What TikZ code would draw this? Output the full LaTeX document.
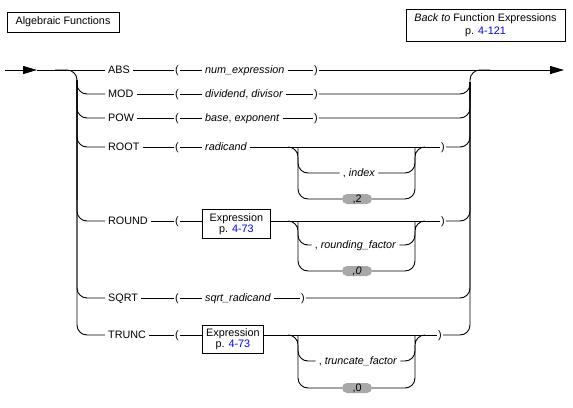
\documentclass[tikz,border=0pt]{standalone}
\usepackage{fontspec}
\setmainfont{Liberation Sans}
\usetikzlibrary{arrows.meta,calc}
\definecolor{pillgray}{RGB}{168,168,168}
\definecolor{linkblue}{RGB}{0,0,255}
\begin{document}
\begin{tikzpicture}[x=1pt,y=-1pt,
  every node/.style={font=\fontsize{10.8}{11}\selectfont},
  lbl/.style={inner xsep=3pt, inner ysep=1pt, text height=7.7pt, text depth=0pt},
  kw/.style={lbl, anchor=west},
  arg/.style={lbl, anchor=west, font=\fontsize{10.8}{11}\selectfont\itshape},
  par/.style={inner xsep=0.8pt, inner ysep=1pt, text height=7.7pt, text depth=0pt},
  ref/.style={draw, line width=0.8pt, align=center, inner sep=1pt},
  pill/.style={fill=pillgray, rounded corners=5pt, minimum width=30pt, minimum height=10pt, inner sep=0.5pt, text height=7.7pt, text depth=0pt},
  rail/.style={line width=0.9pt, rounded corners=10pt},
  line/.style={line width=0.9pt},
  tip/.style={-{Triangle[length=14pt,width=8pt]}}
]
\useasboundingbox (0,0) rectangle (573,407);

% reference boxes
\node[ref, minimum width=112pt, minimum height=20pt] (title) at (63,22) {Algebraic Functions};
\node[ref, minimum width=159pt, minimum height=32pt, font=\fontsize{10.8}{12.5}\selectfont] (back) at (485.5,25) {\textit{Back to} Function Expressions\\p. \textcolor{linkblue}{4-121}};

% coordinates
\coordinate (start) at (5,70);
\coordinate (arr) at (37,70);
\coordinate (end) at (564,70);
\coordinate (Ljoin) at (55,70);
\coordinate (Lrail) at (77,80);
\coordinate (Lbot) at (77,200);
\coordinate (Rrail) at (470,82);
\coordinate (Rtop) at (470,100);
\coordinate (Rjoin) at (490,70);

% ABS
\node[kw] (kABS) at (105,70) {ABS};
\node[par] (lABS) at (177,70) {(};
\node[arg] (aABS) at (202,70) {num\_expression};
\node[par] (rABS) at (316,70) {)};
% MOD
\node[kw] (kMOD) at (105,94) {MOD};
\node[par] (lMOD) at (177,94) {(};
\node[kw] (aMOD) at (202,94) {\textit{dividend}, \textit{divisor}};
\node[par] (rMOD) at (316,94) {)};
% POW
\node[kw] (kPOW) at (105,118) {POW};
\node[par] (lPOW) at (177,118) {(};
\node[kw] (aPOW) at (202,118) {\textit{base}, \textit{exponent}};
\node[par] (rPOW) at (316,118) {)};
% ROOT
\node[kw] (kROOT) at (105,147) {ROOT};
\node[par] (lROOT) at (177,147) {(};
\node[arg] (aROOT) at (202,147) {radicand};
\node[par] (rROOT) at (443,147) {)};
\node[lbl] (mROOT) at (359,173) {, \textit{index}};
\node[pill] (pROOT) at (357,199) {,2};
% ROUND
\node[kw] (kROUND) at (105,221) {ROUND};
\node[par] (lROUND) at (177,221) {(};
\node[ref, anchor=north west, minimum width=68pt, minimum height=29pt] (xROUND) at (202,209) {Expression\\p. \textcolor{linkblue}{4-73}};
\node[par] (rROUND) at (443,221) {)};
\node[lbl] (mROUND) at (355.5,245) {, \textit{rounding\_factor}};
\node[pill] (pROUND) at (357,271) {\textit{,0}};
% SQRT
\node[kw] (kSQRT) at (105,298) {SQRT};
\node[par] (lSQRT) at (177,298) {(};
\node[arg] (aSQRT) at (202,298) {sqrt\_radicand};
\node[par] (rSQRT) at (303,298) {)};
% TRUNC
\node[kw] (kTRUNC) at (105,335) {TRUNC};
\node[par] (lTRUNC) at (177,335) {(};
\node[ref, anchor=north west, minimum width=61pt, minimum height=28pt] (xTRUNC) at (202,325) {Expression\\p. \textcolor{linkblue}{4-73}};
\node[par] (rTRUNC) at (440,335) {)};
\node[lbl] (mTRUNC) at (358,361) {, \textit{truncate\_factor}};
\node[pill] (pTRUNC) at (357,388) {,0};

% group coordinates
\foreach \g/\t in {ROOT/147, ROUND/221, TRUNC/335}{
  \coordinate (ga\g) at (288,\t);
  \coordinate (gl\g) at (298,\t+10);
  \coordinate (gr\g) at (415,\t+10);
  \coordinate (gb\g) at (425,\t);
}

% main line
\draw[line,tip] (start) -- (arr);
\draw[line] (arr) -- (kABS.west);
\draw[line,tip] (rABS.east) -- (end);
\draw[line] (kABS.east) -- (lABS.west);
\draw[line] (lABS.east) -- (aABS.west);
\draw[line] (aABS.east) -- (rABS.west);

% rails
\draw[rail] (Ljoin) -| (Lbot);
\draw[rail] (Rtop) |- (Rjoin);
\foreach \r in {MOD,POW,ROOT,ROUND,SQRT,TRUNC}{
  \draw[rail] (Lrail) |- (k\r.west);
  \draw[rail] (r\r.east) -| (Rrail);
  \draw[line] (k\r.east) -- (l\r.west);
}
\foreach \r in {MOD,POW,ROOT,SQRT}{
  \draw[line] (l\r.east) -- (a\r.west);
  \draw[line] (a\r.east) -- (r\r.west);
}
\foreach \r in {ROUND,TRUNC}{
  \draw[line] (l\r.east) -- (l\r.east -| x\r.west);
  \draw[line] (x\r.east |- r\r.west) -- (r\r.west);
}
% optional groups
\foreach \g in {ROOT,ROUND,TRUNC}{
  \draw[rail] (ga\g) -| (gl\g) |- (p\g.west);
  \draw[rail] (gl\g) |- (m\g.west);
  \draw[rail] (p\g.east) -| (gr\g) |- (gb\g);
  \draw[rail] (m\g.east) -| (gr\g);
}
\end{tikzpicture}
\end{document}
